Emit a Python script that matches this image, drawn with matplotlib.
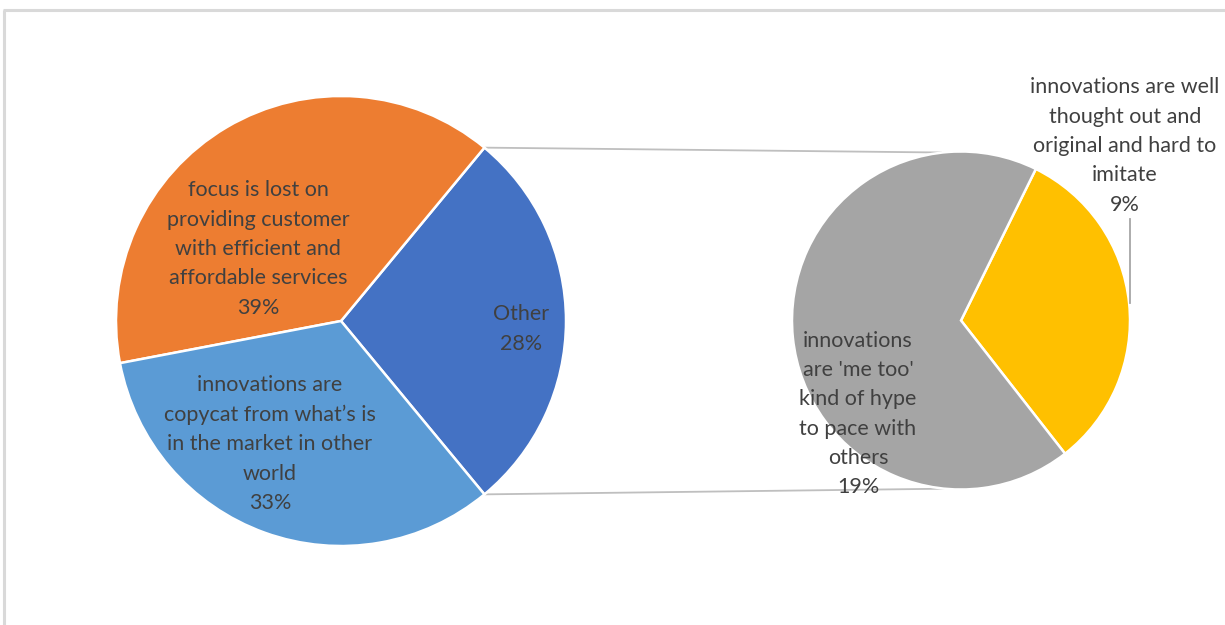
import matplotlib
matplotlib.use("Agg")
import matplotlib.pyplot as plt
from matplotlib.lines import Line2D
import numpy as np

# Main pie
main_labels = [
    "Other",
    "focus is lost on\nproviding customer\nwith efficient and\naffordable services",
    "innovations are\ncopycat from what’s is\nin the market in other\nworld",
]
main_values = [28, 39, 33]
main_colors = ["#4472C4", "#ED7D31", "#5B9BD5"]

# Breakdown of "Other"
sub_labels = [
    "innovations are well\nthought out and\noriginal and hard to\nimitate",
    "innovations\nare 'me too'\nkind of hype\nto pace with\nothers",
]
sub_values = [9, 19]
sub_colors = ["#FFC000", "#A5A5A5"]

W, H = 1225, 625
fig = plt.figure(figsize=(W / 100, H / 100), dpi=100)
ax = fig.add_axes([0, 0, 1, 1])

def Y(y):
    return H - y

# pie geometry
c1, r1 = (341, Y(321)), 225
c2, r2 = (961, Y(320.5)), 169

tot = sum(main_values)
start1 = -main_values[0] / tot * 360 / 2
w1, _ = ax.pie(main_values, colors=main_colors, startangle=start1, counterclock=True,
               center=c1, radius=r1, frame=True,
               wedgeprops=dict(edgecolor="white", linewidth=1.8))

start2 = -52
w2, _ = ax.pie(sub_values, colors=sub_colors, startangle=start2, counterclock=True,
               center=c2, radius=r2, frame=True,
               wedgeprops=dict(edgecolor="white", linewidth=1.8))
ax.set_xlim(0, W)
ax.set_ylim(0, H)
ax.set_aspect("equal")
ax.axis("off")

# chart-area frame (top and left edges visible)
ax.plot([3, W + 5], [Y(10), Y(10)], color="#D9D9D9", lw=2.2, solid_capstyle="butt")
ax.plot([3.5, 3.5], [Y(10), -5], color="#D9D9D9", lw=2.2, solid_capstyle="butt")

# connector lines from the "Other" wedge edges to the secondary pie
a_top = np.deg2rad(w1[0].theta2)
a_bot = np.deg2rad(w1[0].theta1)
p_top = (c1[0] + r1 * np.cos(a_top), c1[1] + r1 * np.sin(a_top))
p_bot = (c1[0] + r1 * np.cos(a_bot), c1[1] + r1 * np.sin(a_bot))
ax.add_line(Line2D([p_top[0], c2[0] - 20], [p_top[1], c2[1] + r2 - 1],
                   color="#BFBFBF", lw=1.3, zorder=0.5))
ax.add_line(Line2D([p_bot[0], c2[0]], [p_bot[1], c2[1] - r2 + 1],
                   color="#BFBFBF", lw=1.3, zorder=0.5))

font = dict(family=["Lato", "DejaVu Sans"], fontsize=15.5, color="#404040",
            ha="center", va="center", linespacing=1.58)

def lab(x, y, text, val):
    ax.text(x, Y(y), f"{text}\n{val}%", zorder=5, **font)

lab(521, 329, main_labels[0], main_values[0])
lab(258, 249, main_labels[1], main_values[1])
lab(270, 444, main_labels[2], main_values[2])
lab(1125, 146, sub_labels[0], sub_values[0])
lab(858, 414, sub_labels[1], sub_values[1])

# leader line for the small wedge's label
ax.add_line(Line2D([1129.5, 1129.5], [Y(219), Y(303)], color="#A6A6A6", lw=1.3, zorder=5))

fig.savefig("out.png", dpi=100, facecolor="white")
